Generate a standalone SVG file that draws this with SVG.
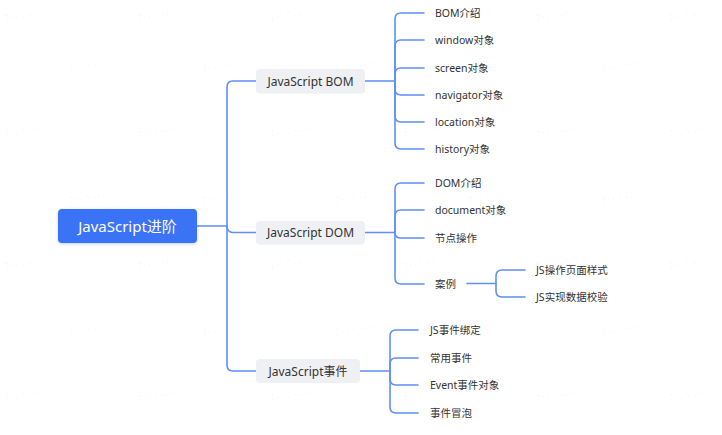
<svg xmlns="http://www.w3.org/2000/svg" width="722" height="435" viewBox="0 0 722 435">
<defs>
<style>
.bg{fill:#ffffff}
.ln{fill:none;stroke:#5f8ff8;stroke-width:1.6;stroke-linecap:round}
.root{fill:#3a73f6}
.rootT{font-family:"Noto Sans","Noto Sans CJK SC",sans-serif;font-size:15px;fill:#ffffff}
.sub{fill:#eef0f3}
.subT{font-family:"Noto Sans","Noto Sans CJK SC",sans-serif;font-size:12px;fill:#333333}
.leaf{font-family:"Noto Sans","Noto Sans CJK SC",sans-serif;font-size:10.5px;fill:#333333}
.wm{font-family:"Noto Sans CJK SC","Noto Sans",sans-serif;font-size:8px;fill:#000000;fill-opacity:0.045}
</style>
<filter id="sh" x="-20%" y="-30%" width="140%" height="160%">
<feDropShadow dx="0" dy="1" stdDeviation="1.5" flood-color="#3a73f6" flood-opacity="0.3"/>
</filter>
</defs>
<rect class="bg" x="0" y="0" width="722" height="435"/>

<g id="connectors">
<path class="ln" d="M197,226 H227"/>
<path class="ln" d="M227,226 V87 Q227,81 233,81 H256"/>
<path class="ln" d="M227,226 Q227,232.5 233,232.5 H256"/>
<path class="ln" d="M227,226 V365 Q227,371 233,371 H256"/>

<path class="ln" d="M365,81 H395"/>
<path class="ln" d="M395,81 V19 Q395,13 401,13 H424"/>
<path class="ln" d="M395,81 V46 Q395,40 401,40 H424"/>
<path class="ln" d="M395,81 V74 Q395,68 401,68 H424"/>
<path class="ln" d="M395,81 V89 Q395,95 401,95 H424"/>
<path class="ln" d="M395,81 V116 Q395,122 401,122 H424"/>
<path class="ln" d="M395,81 V143 Q395,149 401,149 H424"/>

<path class="ln" d="M365,232.5 H395"/>
<path class="ln" d="M395,232.5 V189 Q395,183 401,183 H424"/>
<path class="ln" d="M395,232.5 V216 Q395,210 401,210 H424"/>
<path class="ln" d="M395,232.5 Q395,238 401,238 H424"/>
<path class="ln" d="M395,232.5 V278 Q395,284 401,284 H424"/>

<path class="ln" d="M467,283.5 H496"/>
<path class="ln" d="M496,283.5 V276 Q496,270 502,270 H525"/>
<path class="ln" d="M496,283.5 V291 Q496,297 502,297 H525"/>

<path class="ln" d="M360,371 H390"/>
<path class="ln" d="M390,371 V336 Q390,330 396,330 H418"/>
<path class="ln" d="M390,371 V364 Q390,358 396,358 H418"/>
<path class="ln" d="M390,371 V379 Q390,385 396,385 H418"/>
<path class="ln" d="M390,371 V407 Q390,413 396,413 H418"/>
</g>

<g id="root">
<rect class="root" x="58" y="209" width="139" height="34" rx="4" filter="url(#sh)"/>
<text class="rootT" x="127.5" y="226" text-anchor="middle" dominant-baseline="central">JavaScript进阶</text>
</g>

<g id="bom">
<rect class="sub" x="256" y="69" width="109" height="24.5" rx="4"/>
<text class="subT" x="310.5" y="81" text-anchor="middle" dominant-baseline="central">JavaScript BOM</text>
</g>
<g id="dom">
<rect class="sub" x="256" y="221" width="109" height="23.5" rx="4"/>
<text class="subT" x="310.5" y="232.5" text-anchor="middle" dominant-baseline="central">JavaScript DOM</text>
</g>
<g id="event">
<rect class="sub" x="256" y="359" width="104" height="24" rx="4"/>
<text class="subT" x="308" y="371" text-anchor="middle" dominant-baseline="central">JavaScript事件</text>
</g>

<g id="bom-intro"><text class="leaf" x="435" y="13" dominant-baseline="central">BOM介绍</text></g>
<g id="window"><text class="leaf" x="435" y="40" dominant-baseline="central">window对象</text></g>
<g id="screen"><text class="leaf" x="435" y="68" dominant-baseline="central">screen对象</text></g>
<g id="navigator"><text class="leaf" x="435" y="95" dominant-baseline="central">navigator对象</text></g>
<g id="location"><text class="leaf" x="435" y="122" dominant-baseline="central">location对象</text></g>
<g id="history"><text class="leaf" x="435" y="149" dominant-baseline="central">history对象</text></g>

<g id="dom-intro"><text class="leaf" x="435" y="183" dominant-baseline="central">DOM介绍</text></g>
<g id="document"><text class="leaf" x="435" y="210" dominant-baseline="central">document对象</text></g>
<g id="node-op"><text class="leaf" x="435" y="238" dominant-baseline="central">节点操作</text></g>
<g id="case"><text class="leaf" x="435" y="284" dominant-baseline="central">案例</text></g>
<g id="case-style"><text class="leaf" x="536" y="270" dominant-baseline="central">JS操作页面样式</text></g>
<g id="case-validate"><text class="leaf" x="536" y="297" dominant-baseline="central">JS实现数据校验</text></g>

<g id="ev-bind"><text class="leaf" x="430" y="330" dominant-baseline="central">JS事件绑定</text></g>
<g id="ev-common"><text class="leaf" x="430" y="358" dominant-baseline="central">常用事件</text></g>
<g id="ev-object"><text class="leaf" x="430" y="385" dominant-baseline="central">Event事件对象</text></g>
<g id="ev-bubble"><text class="leaf" x="430" y="413" dominant-baseline="central">事件冒泡</text></g>

<g id="watermarks">
<text class="wm" transform="translate(3,22) rotate(-13)">李绍波 2302</text>
<text class="wm" transform="translate(136,22) rotate(-13)">李绍波 2302</text>
<text class="wm" transform="translate(269,22) rotate(-13)">李绍波 2302</text>
<text class="wm" transform="translate(402,22) rotate(-13)">李绍波 2302</text>
<text class="wm" transform="translate(535,22) rotate(-13)">李绍波 2302</text>
<text class="wm" transform="translate(668,22) rotate(-13)">李绍波 2302</text>
<text class="wm" transform="translate(68,72) rotate(-13)">李绍波 2302</text>
<text class="wm" transform="translate(201,72) rotate(-13)">李绍波 2302</text>
<text class="wm" transform="translate(334,72) rotate(-13)">李绍波 2302</text>
<text class="wm" transform="translate(467,72) rotate(-13)">李绍波 2302</text>
<text class="wm" transform="translate(600,72) rotate(-13)">李绍波 2302</text>
<text class="wm" transform="translate(3,138) rotate(-13)">李绍波 2302</text>
<text class="wm" transform="translate(136,138) rotate(-13)">李绍波 2302</text>
<text class="wm" transform="translate(269,138) rotate(-13)">李绍波 2302</text>
<text class="wm" transform="translate(402,138) rotate(-13)">李绍波 2302</text>
<text class="wm" transform="translate(535,138) rotate(-13)">李绍波 2302</text>
<text class="wm" transform="translate(668,138) rotate(-13)">李绍波 2302</text>
<text class="wm" transform="translate(68,204) rotate(-13)">李绍波 2302</text>
<text class="wm" transform="translate(201,204) rotate(-13)">李绍波 2302</text>
<text class="wm" transform="translate(334,204) rotate(-13)">李绍波 2302</text>
<text class="wm" transform="translate(467,204) rotate(-13)">李绍波 2302</text>
<text class="wm" transform="translate(600,204) rotate(-13)">李绍波 2302</text>
<text class="wm" transform="translate(3,270) rotate(-13)">李绍波 2302</text>
<text class="wm" transform="translate(136,270) rotate(-13)">李绍波 2302</text>
<text class="wm" transform="translate(269,270) rotate(-13)">李绍波 2302</text>
<text class="wm" transform="translate(402,270) rotate(-13)">李绍波 2302</text>
<text class="wm" transform="translate(535,270) rotate(-13)">李绍波 2302</text>
<text class="wm" transform="translate(668,270) rotate(-13)">李绍波 2302</text>
<text class="wm" transform="translate(68,336) rotate(-13)">李绍波 2302</text>
<text class="wm" transform="translate(201,336) rotate(-13)">李绍波 2302</text>
<text class="wm" transform="translate(334,336) rotate(-13)">李绍波 2302</text>
<text class="wm" transform="translate(467,336) rotate(-13)">李绍波 2302</text>
<text class="wm" transform="translate(600,336) rotate(-13)">李绍波 2302</text>
<text class="wm" transform="translate(3,402) rotate(-13)">李绍波 2302</text>
<text class="wm" transform="translate(136,402) rotate(-13)">李绍波 2302</text>
<text class="wm" transform="translate(269,402) rotate(-13)">李绍波 2302</text>
<text class="wm" transform="translate(402,402) rotate(-13)">李绍波 2302</text>
<text class="wm" transform="translate(535,402) rotate(-13)">李绍波 2302</text>
<text class="wm" transform="translate(668,402) rotate(-13)">李绍波 2302</text>
</g>
</svg>
